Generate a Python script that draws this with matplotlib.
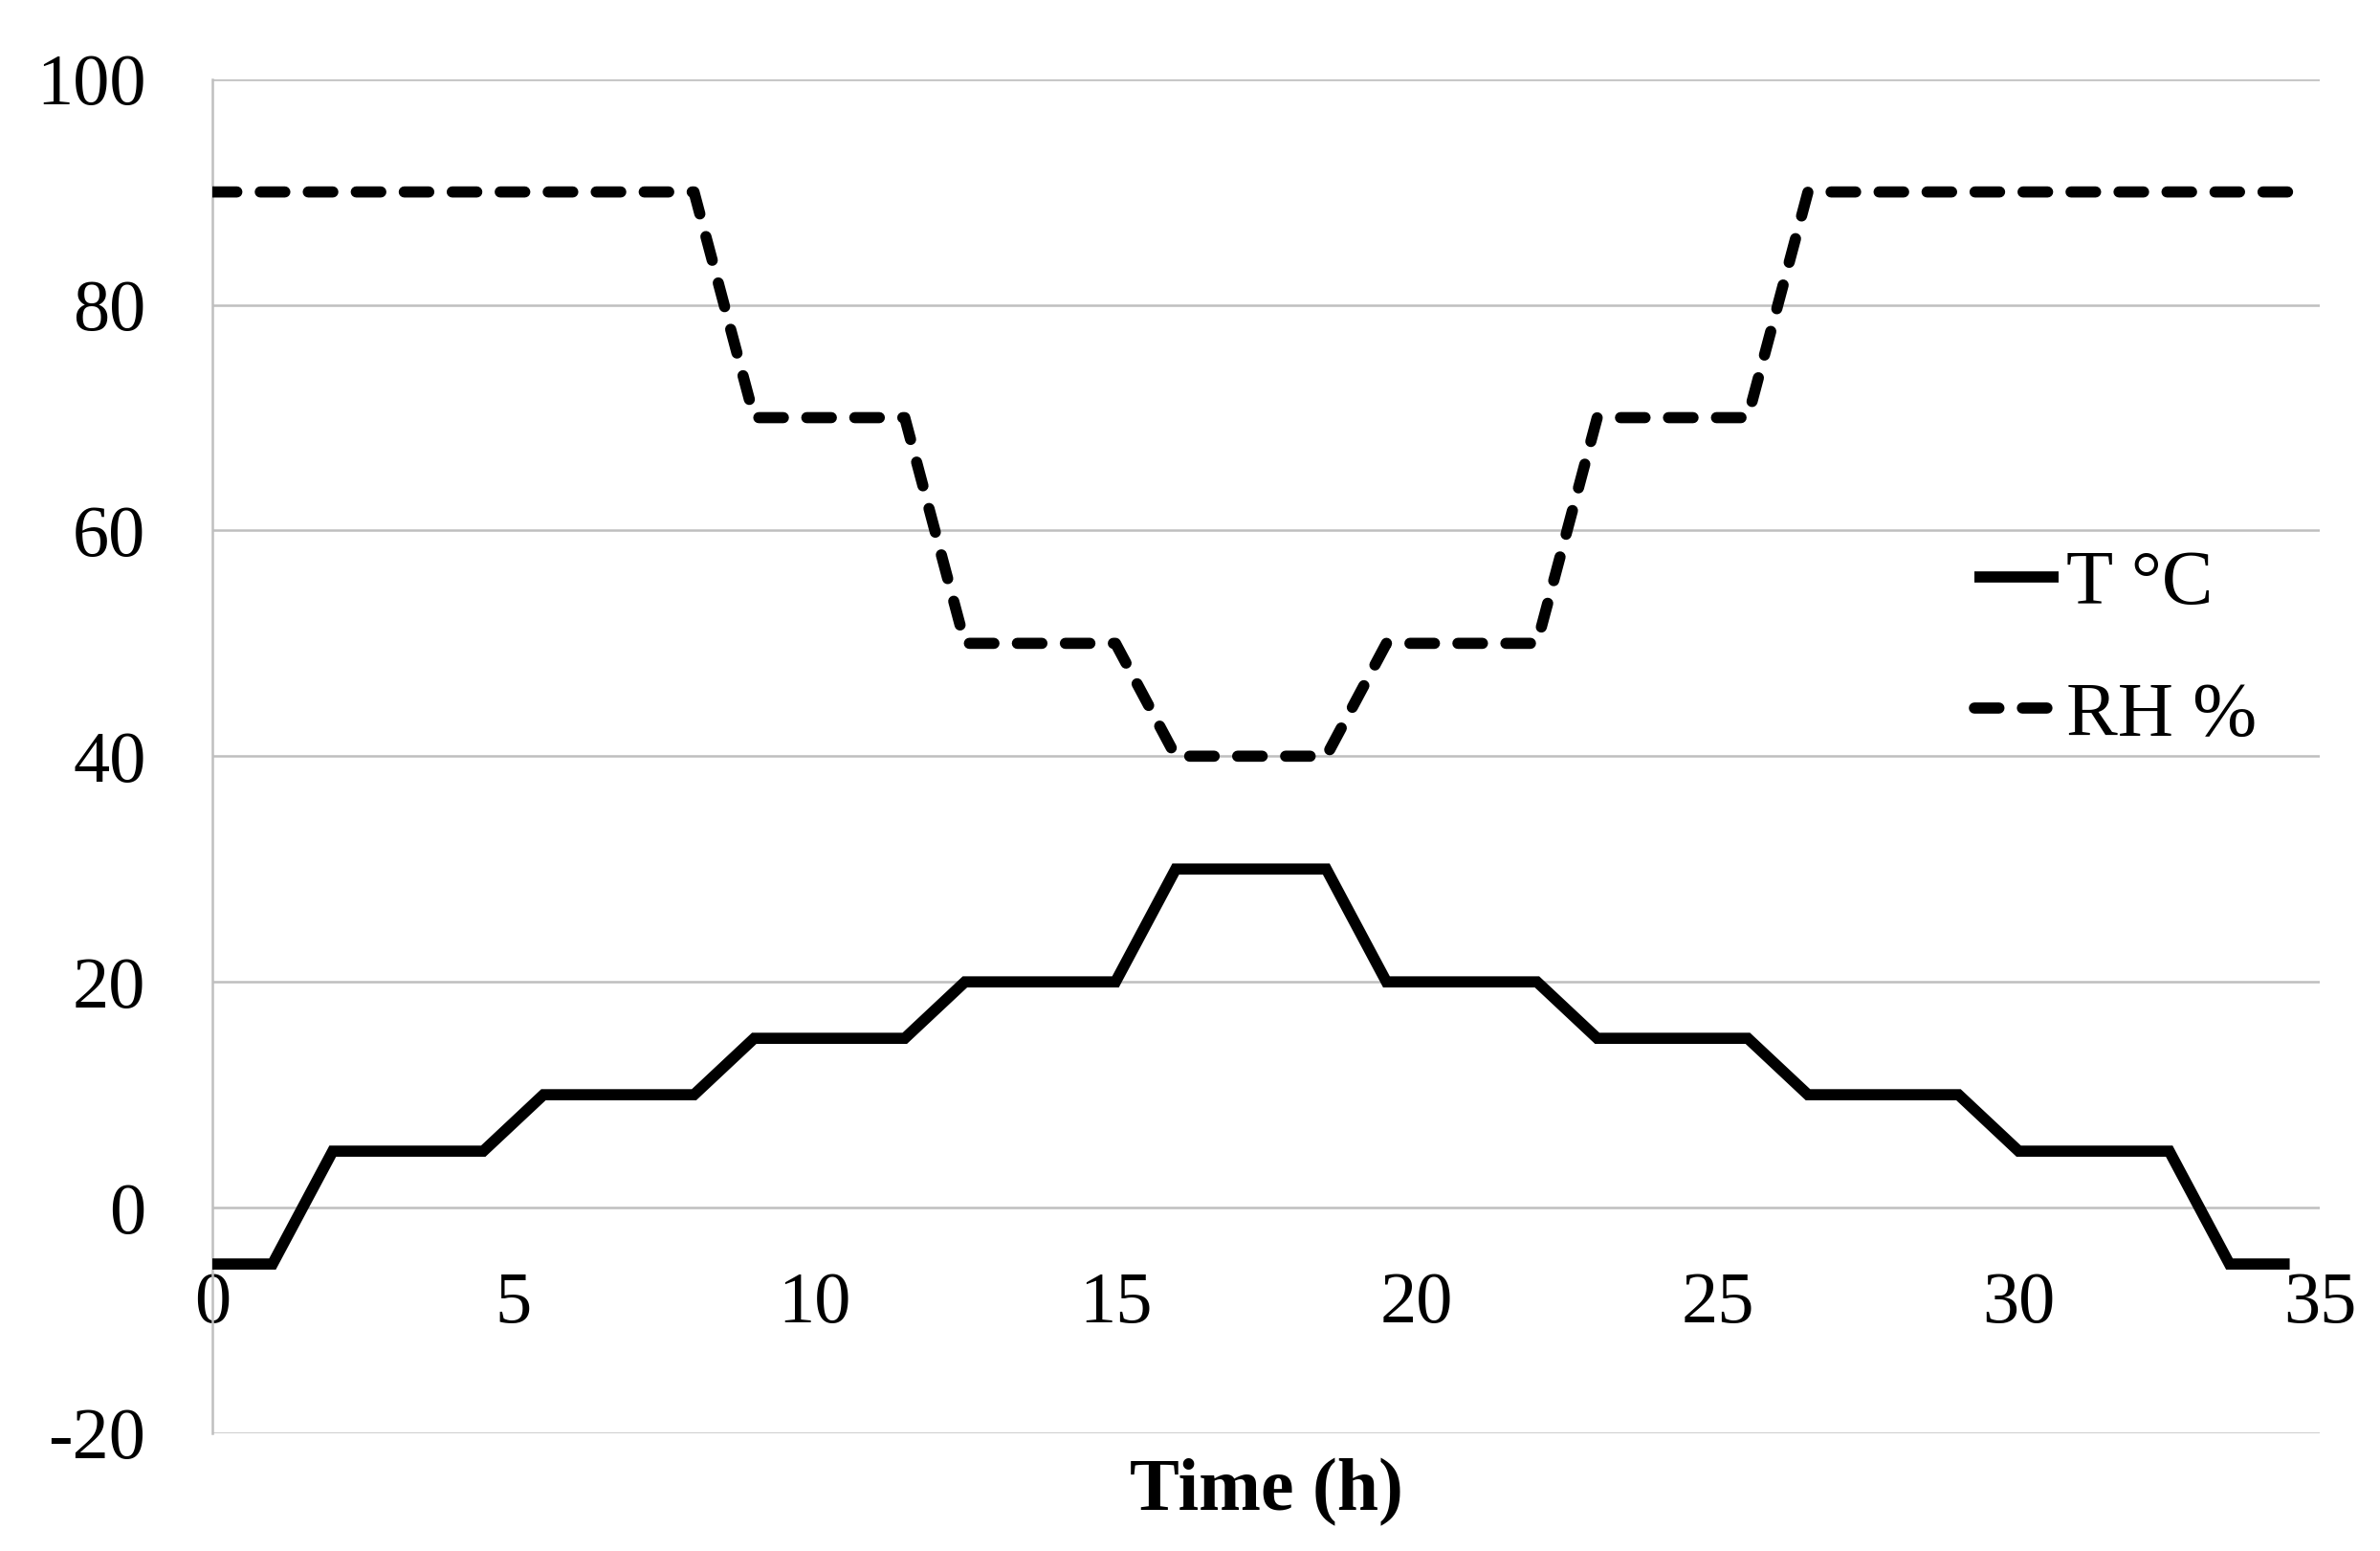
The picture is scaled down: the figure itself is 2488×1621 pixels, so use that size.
import matplotlib
matplotlib.use("Agg")
import matplotlib.pyplot as plt

time_h = [0, 1, 2, 4.5, 5.5, 8, 9, 11.5, 12.5, 15, 16, 18.5, 19.5, 22, 23, 25.5, 26.5, 29, 30, 32.5, 33.5, 34.5]
temp_c = [-5, -5, 5, 5, 10, 10, 15, 15, 20, 20, 30, 30, 20, 20, 15, 15, 10, 10, 5, 5, -5, -5]
rh_time = [0, 8, 9, 11.5, 12.5, 15, 16, 18.5, 19.5, 22, 23, 25.5, 26.5, 34.5]
rh_pct = [90, 90, 70, 70, 50, 50, 40, 40, 50, 50, 70, 70, 90, 90]
x_ticks = [0, 5, 10, 15, 20, 25, 30, 35]
y_ticks = [-20, 0, 20, 40, 60, 80, 100]

plt.rcParams['font.family'] = ['Liberation Serif', 'DejaVu Serif']
plt.rcParams['axes.unicode_minus'] = False

fig = plt.figure(figsize=(12.44, 8.105), dpi=200)
ax = fig.add_axes([0.0892, 0.0759, 0.8855, 0.8731])

grid_c = '#BFBFBF'
for y in y_ticks:
    ax.axhline(y, color=grid_c, lw=0.9, zorder=1)

ax.plot(time_h, temp_c, color='black', lw=4.2, label='T °C', zorder=3,
        solid_joinstyle='miter', solid_capstyle='butt')
rh_line, = ax.plot(rh_time, rh_pct, color='black', lw=4.2, label='RH %', zorder=3,
                   dash_capstyle='round', dash_joinstyle='round')
rh_line.set_dashes((2.2, 2.1))

ax.set_xlim(0, 35)
ax.set_ylim(-20, 100)
ax.set_xticks(x_ticks)
ax.set_yticks(y_ticks)

for s in ['top', 'right']:
    ax.spines[s].set_visible(False)
ax.spines['bottom'].set_position(('data', 0))
ax.spines['bottom'].set_visible(False)
ax.spines['left'].set_color(grid_c)
ax.spines['left'].set_linewidth(0.9)

ax.tick_params(axis='x', length=0, pad=24, labelsize=27.5)
ax.tick_params(axis='y', length=0, pad=25, labelsize=27.5)

leg = ax.legend(loc='center left', bbox_to_anchor=(0.803, 0.578), frameon=False,
                fontsize=29, handlelength=1.1, handletextpad=0.1, labelspacing=0.8)

fig.text(0.532, 0.038, 'Time (h)', fontsize=28, fontweight='bold',
         ha='center', va='center')

fig.savefig('out.png', dpi=200)
